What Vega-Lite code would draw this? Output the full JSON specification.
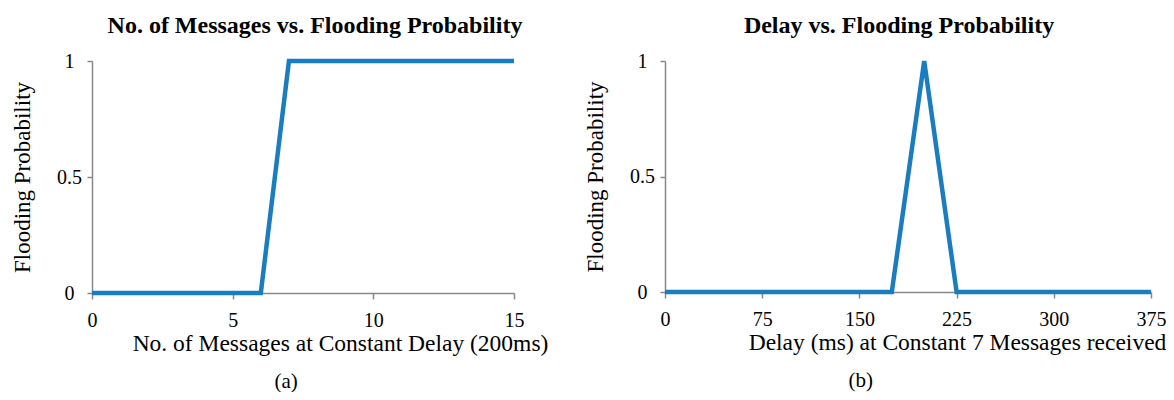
{
  "$schema": "https://vega.github.io/schema/vega-lite/v6.json",
  "padding": {"left": 11, "top": 14, "right": 0, "bottom": 0},
  "background": "white",
  "spacing": 36,
  "config": {
    "font": "Liberation Serif",
    "view": {"stroke": null},
    "axis": {
      "grid": false,
      "domainColor": "#888888",
      "tickColor": "#888888",
      "domainWidth": 1.5,
      "tickWidth": 1.5,
      "labelColor": "#000000",
      "titleColor": "#000000",
      "labelFont": "Liberation Serif",
      "titleFont": "Liberation Serif",
      "labelFontSize": 20,
      "titleFontSize": 23,
      "titleFontWeight": "normal",
      "labelExpr": "datum.value"
    },
    "axisX": {"titleFontSize": 23.5, "labelFlush": false},
    "title": {"font": "Liberation Serif", "color": "#000000"}
  },
  "hconcat": [
    {
      "vconcat": [
        {
          "width": 422,
          "height": 232,
          "title": {"text": "No. of Messages vs. Flooding Probability", "fontSize": 24, "fontWeight": "bold", "offset": 13, "dx": 12},
          "data": {"values": [
            {"n": 0, "p": 0}, {"n": 1, "p": 0}, {"n": 2, "p": 0}, {"n": 3, "p": 0},
            {"n": 4, "p": 0}, {"n": 5, "p": 0}, {"n": 6, "p": 0}, {"n": 7, "p": 1},
            {"n": 8, "p": 1}, {"n": 9, "p": 1}, {"n": 10, "p": 1}, {"n": 11, "p": 1},
            {"n": 12, "p": 1}, {"n": 13, "p": 1}, {"n": 14, "p": 1}, {"n": 15, "p": 1}
          ]},
          "mark": {"type": "line", "color": "#1a7dc0", "strokeWidth": 4.5, "clip": false},
          "encoding": {
            "x": {"field": "n", "type": "quantitative", "scale": {"domain": [0, 15], "nice": false},
                  "axis": {"values": [0, 5, 10, 15], "tickSize": 6, "labelPadding": 11, "title": "No. of Messages at Constant Delay (200ms)", "titlePadding": 1, "titleX": 248}},
            "y": {"field": "p", "type": "quantitative", "scale": {"domain": [0, 1], "nice": false},
                  "axis": {"values": [0, 0.5, 1], "tickSize": 5, "labelPadding": 18, "labelAlign": "center", "title": "Flooding Probability", "titlePadding": 22}}
          }
        }
      ],
      "title": {"text": "(a)", "orient": "bottom", "anchor": "start", "fontSize": 21, "fontWeight": "normal", "offset": 16, "dx": 263}
    },
    {
      "vconcat": [
        {
          "width": 486,
          "height": 231,
          "title": {"text": "Delay vs. Flooding Probability", "fontSize": 24, "fontWeight": "bold", "offset": 13, "dx": -9},
          "data": {"values": [
            {"d": 0, "p": 0}, {"d": 25, "p": 0}, {"d": 50, "p": 0}, {"d": 75, "p": 0},
            {"d": 100, "p": 0}, {"d": 125, "p": 0}, {"d": 150, "p": 0}, {"d": 175, "p": 0},
            {"d": 200, "p": 1}, {"d": 225, "p": 0}, {"d": 250, "p": 0}, {"d": 275, "p": 0},
            {"d": 300, "p": 0}, {"d": 325, "p": 0}, {"d": 350, "p": 0}, {"d": 375, "p": 0}
          ]},
          "mark": {"type": "line", "color": "#1a7dc0", "strokeWidth": 4.5, "clip": false},
          "encoding": {
            "x": {"field": "d", "type": "quantitative", "scale": {"domain": [0, 375], "nice": false},
                  "axis": {"values": [0, 75, 150, 225, 300, 375], "tickSize": 6, "labelPadding": 11, "title": "Delay (ms) at Constant 7 Messages received", "titlePadding": 1, "titleX": 292}},
            "y": {"field": "p", "type": "quantitative", "scale": {"domain": [0, 1], "nice": false},
                  "axis": {"values": [0, 0.5, 1], "tickSize": 5, "labelPadding": 18, "labelAlign": "center", "title": "Flooding Probability", "titlePadding": 22}}
          }
        }
      ],
      "title": {"text": "(b)", "orient": "bottom", "anchor": "start", "fontSize": 21, "fontWeight": "normal", "offset": 16, "dx": 264}
    }
  ]
}
